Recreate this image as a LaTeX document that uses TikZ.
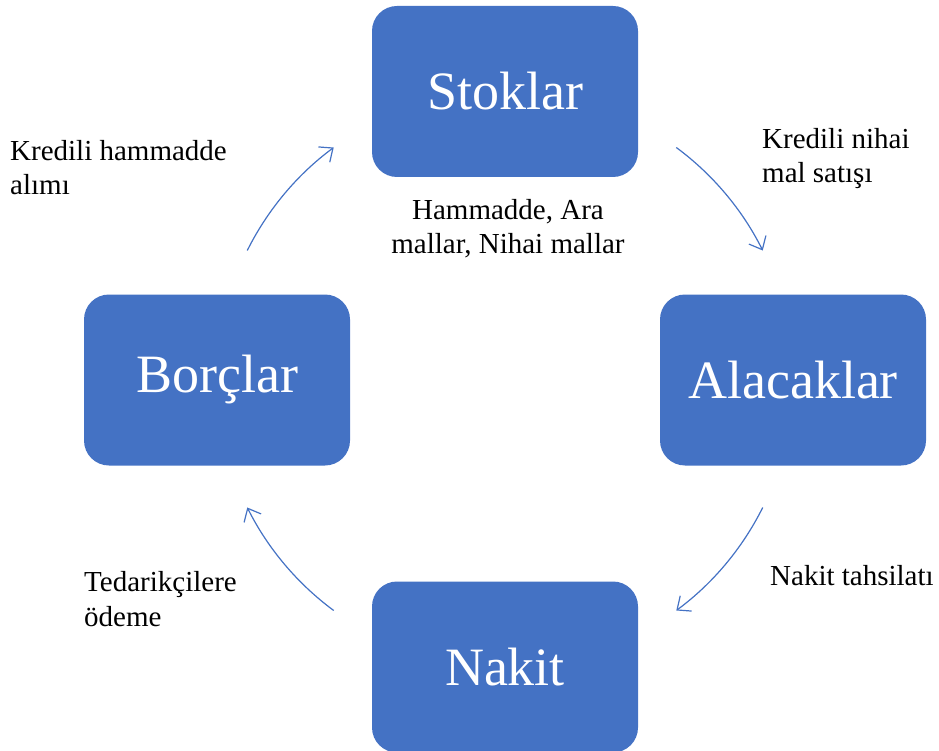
\documentclass[tikz,border=0pt]{standalone}
\usepackage{fontspec}
\setmainfont{Liberation Serif}
\usetikzlibrary{arrows.meta}
\definecolor{boxblue}{HTML}{4472C4}

\begin{document}
\begin{tikzpicture}[x=1pt, y=1pt,
    box/.style={fill=boxblue, rounded corners=25pt, minimum width=266pt, minimum height=171pt, text=white, font=\fontsize{54}{60}\selectfont},
    lbl/.style={inner sep=0pt, align=left, font=\fontsize{29}{34.5}\selectfont},
    flow/.style={draw=boxblue, line width=1.2pt, -{Straight Barb[length=11pt, width=19pt]}}]
    \useasboundingbox (0,0) rectangle (939,-751);
    \node[box] (stoklar) at (505,-91.5) {Stoklar};
    \node[box] (borclar) at (217,-380) {Borçlar};
    \node[box] (alacaklar) at (793,-380) {Alacaklar};
    \node[box] (nakit) at (505,-667) {Nakit};
    \coordinate (O) at (505,-379);
    \path (O) ++(53.5:288) coordinate (s1);
    \path (O) ++(-26.5:288) coordinate (s2);
    \path (O) ++(233.5:288) coordinate (s3);
    \path (O) ++(153.5:288) coordinate (s4);
    \draw[flow] (s1) arc[start angle=53.5, end angle=26.5, radius=288];
    \draw[flow] (s2) arc[start angle=-26.5, end angle=-53.5, radius=288];
    \draw[flow] (s3) arc[start angle=233.5, end angle=206.5, radius=288];
    \draw[flow] (s4) arc[start angle=153.5, end angle=126.5, radius=288];
    \node[lbl, anchor=base west] (alim) at (10,-195) {Kredili hammadde\\alımı};
    \node[lbl, align=center, anchor=base] (stokicerik) at (508,-254) {Hammadde, Ara\\mallar, Nihai mallar};
    \node[lbl, anchor=base west] (satis) at (762,-183) {Kredili nihai\\mal satışı};
    \node[lbl, anchor=base west] (tahsilat) at (770,-585) {Nakit tahsilatı};
    \node[lbl, anchor=base west] (odeme) at (84,-626) {Tedarikçilere\\ödeme};
\end{tikzpicture}
\end{document}
